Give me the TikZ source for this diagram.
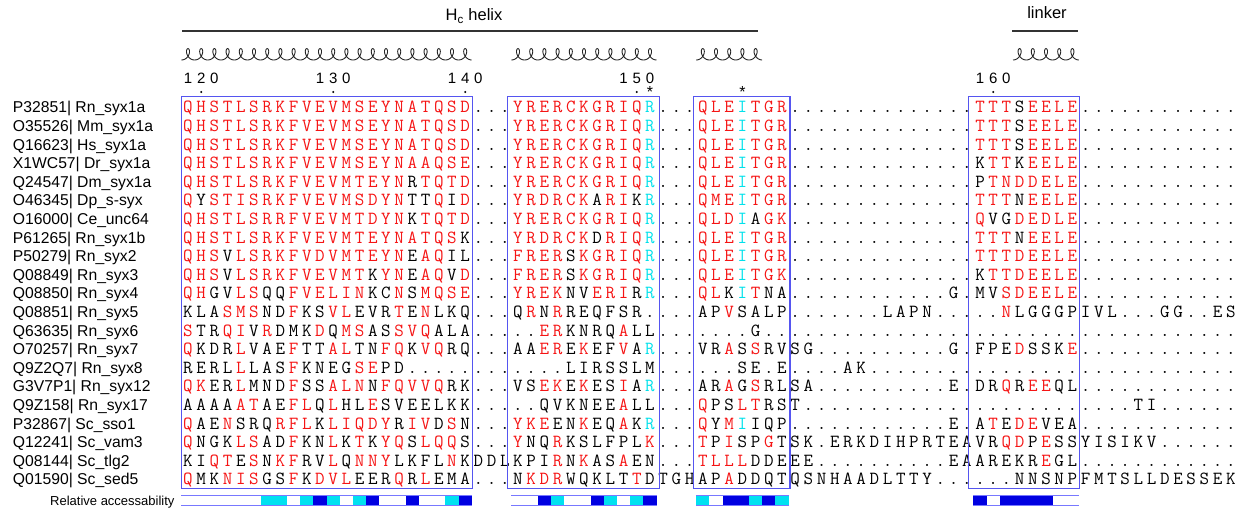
\documentclass[tikz,border=0pt]{standalone}
\usepackage{fontspec}
\setmainfont{Liberation Sans}
\definecolor{resred}{RGB}{245,20,20}
\definecolor{rescyan}{RGB}{0,225,235}
\definecolor{boxblue}{RGB}{85,85,240}
\definecolor{accblue}{RGB}{0,0,225}
\definecolor{acccyan}{RGB}{0,225,240}
\definecolor{acclinecol}{RGB}{120,120,255}
\newcount\colidx
\newif\ifcyannext
\def\dts#1{\ifnum#1>0 .\expandafter\dts\expandafter{\the\numexpr#1-1\relax}\fi}
\def\placeres#1{%
  \ifx#1+\global\cyannexttrue
  \else
    \ifcyannext\def\rescol{rescyan}\else
      \ifnum\lccode`#1=`#1\relax\def\rescol{resred}\else\def\rescol{black}\fi
    \fi
    \global\cyannextfalse
    \node[res,text=\rescol] (r\rownum c\the\colidx) at ({188+13.2*\the\colidx},\rowy) {\uppercase{#1}};%
    \global\advance\colidx by 1
  \fi}
\def\parseseq#1{\ifx#1\relax\else\placeres#1\expandafter\parseseq\fi}
\def\seqrow#1#2#3{%
  \def\rownum{#1}%
  \pgfmathsetmacro\rowy{112.9+18.6*(#1-1)}%
  \node[lab] (lab#1) at (12.7,\rowy) {#2};%
  \global\colidx=0 \global\cyannextfalse
  \edef\seqtmp{#3}%
  \expandafter\parseseq\seqtmp\relax}
\tikzset{
  res/.style={font=\ttfamily\fontsize{18.5}{18.5}\selectfont, inner sep=0pt, anchor=base},
  lab/.style={font=\fontsize{15.7}{15.7}\selectfont, inner sep=0pt, anchor=base west},
  numlab/.style={font=\fontsize{15}{15}\selectfont, inner sep=0pt, anchor=base},
  starlab/.style={font=\fontsize{16}{16}\selectfont, inner sep=0pt, anchor=base},
  hdr/.style={font=\fontsize{16.5}{16.5}\selectfont, inner sep=0pt, anchor=base},
  msabox/.style={draw=boxblue, line width=1.1pt},
  coilline/.style={draw=black!85, line width=0.9pt},
  topline/.style={draw=black!80, line width=1.2pt},
  accrule/.style={draw=acclinecol, line width=0.9pt},
}
\newcommand{\coilat}[3]{\draw[coilline] plot[domain=0:#2, samples=#3] ({181.4+13.2*#1 + 13.2*\x + 4.3*sin(360*\x)}, {54.3+5.7*cos(360*\x)});}
\newcommand{\tickat}[4]{%
  \node[numlab] (n#1a) at ({188+13.2*(#1-1)},83.3) {#2};
  \node[numlab] (n#1b) at ({188+13.2*#1},83.3) {#3};
  \node[numlab] (n#1c) at ({188+13.2*(#1+1)},83.3) {#4};
  \fill ({188+13.2*#1},92) circle (1.1);}
\begin{document}
\begin{tikzpicture}[x=1pt,y=-1pt]
\useasboundingbox (0,0) rectangle (1244,512);
% header
\node[hdr] (hc) at (474,20.7) {H\textsubscript{c} helix};
\node[hdr] (lk) at (1047,18.5) {linker};
\coordinate (hcL) at (182,31); \coordinate (hcR) at (758,31);
\coordinate (lkL) at (1012,31); \coordinate (lkR) at (1078,31);
\draw[topline] (hcL) -- (hcR);
\draw[topline] (lkL) -- (lkR);
\coilat{0}{22}{661}
\coilat{25}{11}{331}
\coilat{39}{5}{151}
\coilat{63}{5}{151}
\tickat{1}{1}{2}{0}
\tickat{11}{1}{3}{0}
\tickat{21}{1}{4}{0}
\tickat{34}{1}{5}{0}
\tickat{61}{1}{6}{0}
\node[starlab] (st1) at ({188+13.2*35},97.2) {*};
\node[starlab] (st2) at ({188+13.2*42},97.2) {*};
% rows
\seqrow{1}{P32851| Rn\_syx1a}{qhstlsrkfvevmseynatqsd...yrerckgriq+R...qle+Itgr\dts{14}tttSeele\dts{12}}
\seqrow{2}{O35526| Mm\_syx1a}{qhstlsrkfvevmseynatqsd...yrerckgriq+R...qle+Itgr\dts{14}tttSeele\dts{12}}
\seqrow{3}{Q16623| Hs\_syx1a}{qhstlsrkfvevmseynatqsd...yrerckgriq+R...qle+Itgr\dts{14}tttSeele\dts{12}}
\seqrow{4}{X1WC57| Dr\_syx1a}{qhstlsrkfvevmseynaaqse...yrerckgriq+R...qle+Itgr\dts{14}KttKeele\dts{12}}
\seqrow{5}{Q24547| Dm\_syx1a}{qhstlsrkfvevmteynRtqtd...yrerckgriq+R...qle+Itgr\dts{14}Ptnddele\dts{12}}
\seqrow{6}{O46345| Dp\_s-syx}{qYstisrkfvevmsdynTTqId...yrdrckAriK+R...qme+Itgr\dts{14}tttNeele\dts{12}}
\seqrow{7}{O16000| Ce\_unc64}{qhstlsrrfvevmtdynKtqtd...yrerckgriq+R...qld+IAgk\dts{14}qVGdedle\dts{12}}
\seqrow{8}{P61265| Rn\_syx1b}{qhstlsrkfvevmteynatqsK...yrdrckDriq+R...qle+Itgr\dts{14}tttNeele\dts{12}}
\seqrow{9}{P50279| Rn\_syx2}{qhsVlsrkfvdvmteynEaqIL...frerSkgriq+R...qle+Itgr\dts{14}tttdeele\dts{12}}
\seqrow{10}{Q08849| Rn\_syx3}{qhsVlsrkfvevmtKynEaqVd...frerSkgriq+R...qle+Itgk\dts{14}Kttdeele\dts{12}}
\seqrow{11}{Q08850| Rn\_syx4}{qhGVlsQQfvelinKCnSmqse...yrekNVeriR+R...qlK+ItNA\dts{12}G.MVsdeele\dts{12}}
\seqrow{12}{Q08851| Rn\_syx5}{KLAsmsNDfKSvlEVRtEnLKQ...QrNrREQFSR\dts{4}APvSALP\dts{7}LAPN\dts{5}nLGGGPIVL...GG..ES}
\seqrow{13}{Q63635| Rn\_syx6}{sTRqiVrDMKdQmsASsvqALA\dts{5}erKNRQaLL\dts{7}G\dts{36}}
\seqrow{14}{O70257| Rn\_syx7}{qKDRlVAEfTTalTNfqKvqRQ...AAerEkEFvA+R...VRaSsRVSG\dts{10}G.FPEdSSKe\dts{12}}
\seqrow{15}{Q9Z2Q7| Rn\_syx8}{RERLlLASfKNEGsePD\dts{12}LIRSSLM\dts{6}SE.E\dts{4}AK\dts{28}}
\seqrow{16}{G3V7P1| Rn\_syx12}{qkERlMNDfSSalnNfqvvqRK...VSekEkESiA+R...ARaGsRLSA\dts{10}E.DRqReeQL\dts{12}}
\seqrow{17}{Q9Z158| Rn\_syx17}{AAAAatAEflQlHLeSVEELKK\dts{5}QVKNEEaLL...qPSltRST\dts{25}TI\dts{6}}
\seqrow{18}{P32867| Sc\_sso1}{qAEnSRQrflKliqdyRivDsN...ykeENkEQaK+R...qYm+IIQP\dts{12}E.AtEdeVEA\dts{12}}
\seqrow{19}{Q12241| Sc\_vam3}{qNGKlsADfKNlKtKyqSlqqS...yNQrKSLFPLk...tPiSPgTSK.ERKDIHPRTEAVRqdPeSSYISIKV\dts{6}}
\seqrow{20}{Q08144| Sc\_tlg2}{KIqtEsNkfRVlQnnyLKFLnKDDLKPIrNkASaEN...tlllDDEEE\dts{10}EAAREKReGL\dts{12}}
\seqrow{21}{Q01590| Sc\_sed5}{qMKnisGSfKdvlEERqRlEMA...NkdrWQKLTtDTGHAPaDDQTQSNHAADLTTY\dts{6}NNSNPFMTSLLDESSEK}
% boxes
\draw[msabox] (181.7,96.7) rectangle (472.7,488.3);
\draw[msabox] (507.3,96.7) rectangle (659.3,488.3);
\draw[msabox] (693.3,96.7) rectangle (790,488.3);
\draw[msabox] (968.3,96.7) rectangle (1079.3,488.3);
% accessibility
\node[lab, font=\fontsize{13}{13}\selectfont] (accl) at (50,505.2) {Relative accessability};
\foreach \c in {6,7,9,11,13,20,28,32,34,39,43,45}
  \fill[acccyan] ({181.4+13.2*\c},496) rectangle ++(13.2,9.3);
\foreach \c in {10,14,17,21,27,31,35,41,42,44,60,62,63,64,65}
  \fill[accblue] ({181.4+13.2*\c},496) rectangle ++(13.2,9.3);
\foreach \a/\b in {0/21,25/35,39/45,60/67}{
  \draw[accrule] ({181.4+13.2*\a},495.6) -- ({194.6+13.2*\b},495.6);
  \draw[accrule] ({181.4+13.2*\a},505.4) -- ({194.6+13.2*\b},505.4);
}
\end{tikzpicture}
\end{document}
